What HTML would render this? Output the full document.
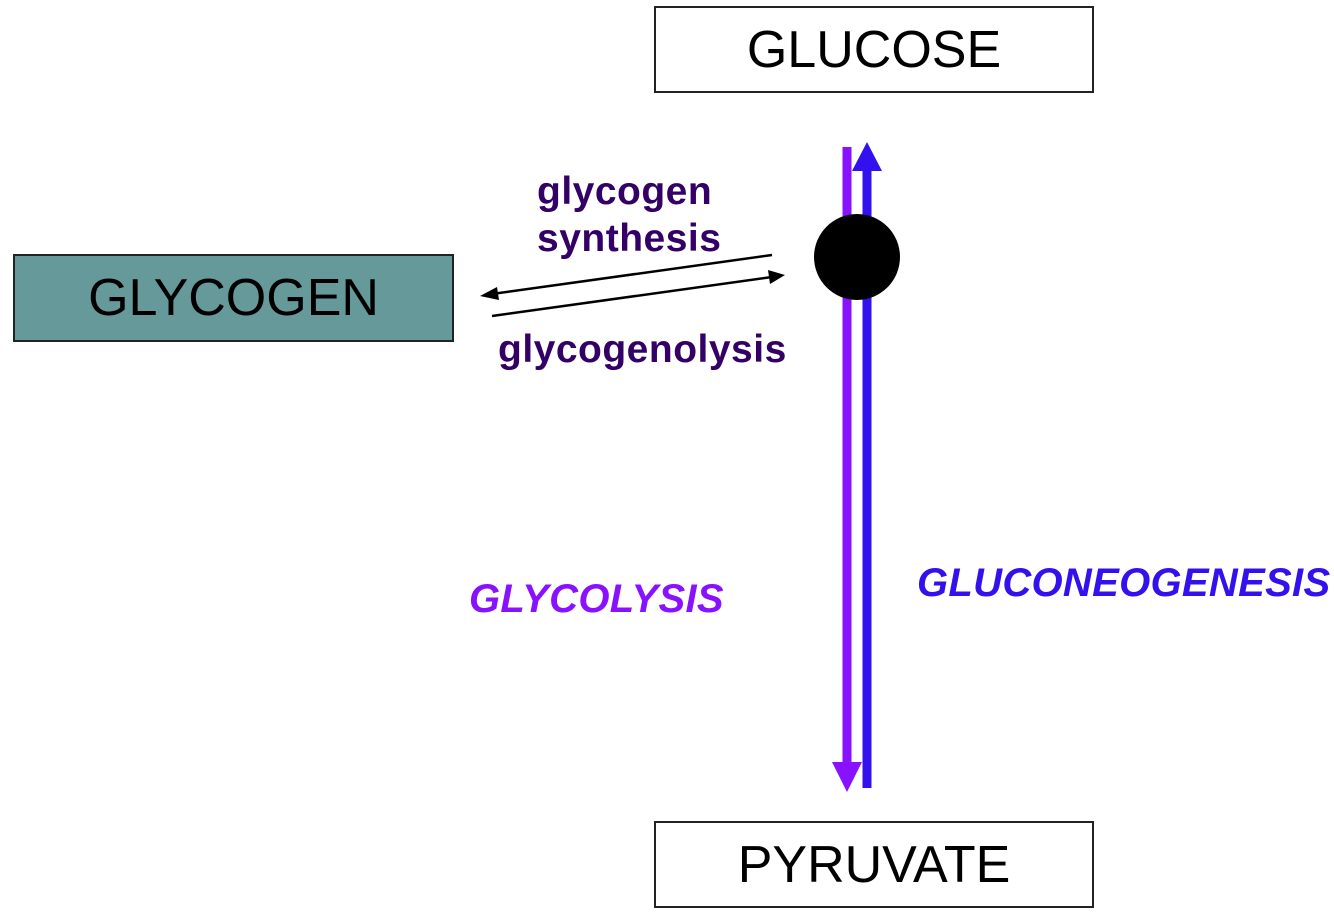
<!DOCTYPE html>
<html><head><style>
body{margin:0;background:#fff;width:1334px;height:922px;overflow:hidden;position:relative;font-family:"Liberation Sans",sans-serif}
.box{position:absolute;border:2px solid #222;box-sizing:border-box;display:flex;align-items:center;justify-content:center;font-size:52px;color:#000}
.t{position:absolute;font-weight:bold;white-space:nowrap}
</style></head><body>
<div class="box" style="left:654px;top:6px;width:440px;height:87px;background:#fff">GLUCOSE</div>
<div class="box" style="left:13px;top:254px;width:441px;height:88px;background:#669999">GLYCOGEN</div>
<div class="box" style="left:654px;top:821px;width:440px;height:87px;background:#fff">PYRUVATE</div>
<svg width="1334" height="922" style="position:absolute;left:0;top:0">
<line x1="847" y1="147" x2="847" y2="765" stroke="#8811ff" stroke-width="9"/>
<polygon points="832,762 862,762 847,792" fill="#8811ff"/>
<line x1="867" y1="788" x2="867" y2="168" stroke="#3311ee" stroke-width="9"/>
<polygon points="852,171 882,171 867,142" fill="#3311ee"/>
<circle cx="857" cy="257" r="43" fill="#000"/>
<line x1="772" y1="255" x2="492" y2="294" stroke="#000" stroke-width="2.5"/>
<polygon points="480,296 497,287 499,300" fill="#000"/>
<line x1="492" y1="316" x2="772" y2="277" stroke="#000" stroke-width="2.5"/>
<polygon points="785,275 768,270 770,284" fill="#000"/>
</svg>
<div class="t" style="left:537px;top:168px;font-size:39px;line-height:47px;letter-spacing:0.5px;color:#330066">glycogen<br>synthesis</div>
<div class="t" style="left:498px;top:326px;font-size:39px;line-height:47px;letter-spacing:0.5px;color:#330066">glycogenolysis</div>
<div class="t" style="left:469px;top:576px;font-size:40px;line-height:47px;letter-spacing:0.3px;color:#8811ff;font-style:italic">GLYCOLYSIS</div>
<div class="t" style="left:917px;top:560px;font-size:40px;line-height:47px;letter-spacing:0.3px;color:#3311ee;font-style:italic">GLUCONEOGENESIS</div>
</body></html>
